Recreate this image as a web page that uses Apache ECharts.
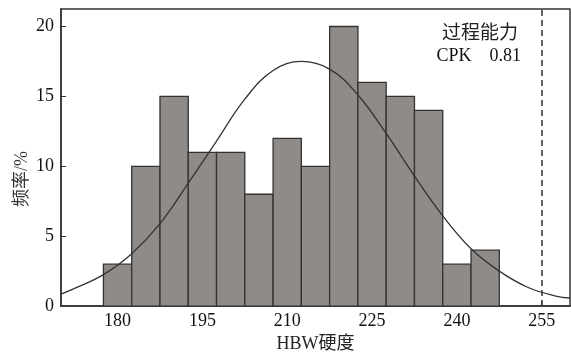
<!DOCTYPE html>
<html>
<head>
<meta charset="utf-8">
<script src="https://cdn.jsdelivr.net/npm/echarts@6/dist/echarts.min.js"></script>
<style>html,body{margin:0;padding:0;background:#fff}#c{width:571px;height:358px}</style>
</head>
<body>
<div id="c"></div>
<script>
// ---- data ----
const binCenters = [180, 185, 190, 195, 200, 205, 210, 215, 220, 225, 230, 235, 240, 245];
const binValues  = [3, 10, 15, 11, 11, 8, 12, 10, 20, 16, 15, 14, 3, 4];
const binWidth = 5;
const curveX = [170, 172.5, 177.5, 182.5, 187.5, 192.5, 197.5, 202.5, 207.5, 212.5, 217.5, 222.5, 227.5, 232.5, 237.5, 242.5, 247.5, 252.5, 257.5, 260];
const curveY = [0.85, 1.28, 2.25, 3.75, 5.9, 8.8, 11.8, 14.8, 16.85, 17.5, 16.95, 15.1, 12.35, 9.3, 6.45, 4.1, 2.5, 1.35, 0.72, 0.58];
const xTicks = [180, 195, 210, 225, 240, 255];
const yTicks = [0, 5, 10, 15, 20];
const usl = 255;
const cpkTitle = '过程能力';
const cpkText = 'CPK    0.81';

const serif = '"Liberation Serif", "Times New Roman", "Noto Sans CJK SC", serif';
const cjk = '"Liberation Serif", "Noto Sans CJK SC", serif';

const chart = echarts.init(document.getElementById('c'), null, {renderer: 'canvas'});
chart.setOption({
  animation: false,
  backgroundColor: '#fff',
  grid: {left: 61, right: 1, top: 9, bottom: 43, show: true, borderColor: '#333', borderWidth: 1.5, backgroundColor: 'transparent'},
  xAxis: {
    type: 'value', min: 170, max: 260,
    name: 'HBW硬度', nameLocation: 'middle', nameGap: 26,
    nameTextStyle: {fontFamily: cjk, fontSize: 18, color: '#222', verticalAlign: 'top'},
    axisLine: {show: true, lineStyle: {color: '#333', width: 1.5}},
    axisTick: {show: true, inside: true, length: 5, customValues: xTicks, lineStyle: {color: '#333'}},
    axisLabel: {customValues: xTicks, fontFamily: serif, fontSize: 18, color: '#111', margin: 6},
    splitLine: {show: false}
  },
  yAxis: {
    type: 'value', min: 0, max: 21.25,
    axisLine: {show: true, lineStyle: {color: '#333', width: 1.5}},
    axisTick: {show: true, inside: true, length: 5, customValues: yTicks, lineStyle: {color: '#333'}},
    axisLabel: {customValues: yTicks, fontFamily: serif, fontSize: 18, color: '#111', margin: 7},
    splitLine: {show: false}
  },
  graphic: [
    {type: 'text', x: 22, y: 179, rotation: Math.PI / 2,
     style: {text: '频率/%', font: '18px ' + cjk, fill: '#333', align: 'center', verticalAlign: 'middle'}},
    {type: 'text', x: 480, y: 32,
     style: {text: cpkTitle, font: '19px "Noto Sans CJK SC", sans-serif', fill: '#222', align: 'center', verticalAlign: 'middle'}},
    {type: 'text', x: 521, y: 56,
     style: {text: cpkText, font: '18px ' + serif, fill: '#111', align: 'right', verticalAlign: 'middle'}}
  ],
  series: [
    {
      type: 'custom',
      data: binCenters.map((c, i) => [c - binWidth / 2, c + binWidth / 2, binValues[i]]),
      encode: {x: [0, 1], y: 2},
      renderItem: function (params, api) {
        const p0 = api.coord([api.value(0), api.value(2)]);
        const p1 = api.coord([api.value(1), 0]);
        return {
          type: 'rect',
          shape: {x: p0[0], y: p0[1], width: p1[0] - p0[0], height: p1[1] - p0[1]},
          style: {fill: '#8f8b88', stroke: '#333', lineWidth: 1.3}
        };
      },
      z: 2
    },
    {
      type: 'line',
      data: curveX.map((x, i) => [x, curveY[i]]),
      smooth: 0.4,
      showSymbol: false,
      lineStyle: {color: '#333', width: 1.3},
      z: 3,
      markLine: {
        silent: true, symbol: 'none', label: {show: false},
        lineStyle: {color: '#333', width: 1.5, type: [6, 4]},
        data: [{xAxis: usl}]
      }
    }
  ]
});
</script>
</body>
</html>
